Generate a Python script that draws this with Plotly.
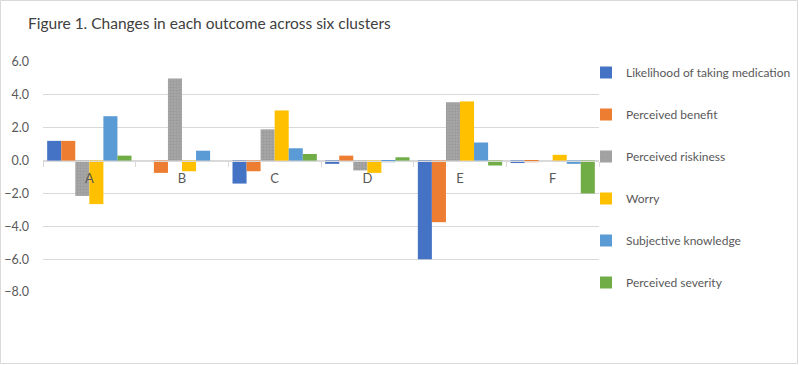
import plotly.graph_objects as go

clusters = ["A", "B", "C", "D", "E", "F"]
series_names = [
    "Likelihood of taking medication",
    "Perceived benefit",
    "Perceived riskiness",
    "Worry",
    "Subjective knowledge",
    "Perceived severity",
]
likelihood = [1.2, 0.0, -1.4, -0.2, -6.0, -0.15]
benefit = [1.2, -0.75, -0.65, 0.3, -3.75, -0.1]
riskiness = [-2.15, 5.0, 1.9, -0.6, 3.55, 0.0]
worry = [-2.65, -0.65, 3.05, -0.75, 3.6, 0.35]
knowledge = [2.7, 0.6, 0.75, -0.1, 1.1, -0.2]
severity = [0.3, 0.0, 0.4, 0.2, -0.3, -2.0]
colors = ["#4472C4", "#ED7D31", "#A5A5A5", "#FFC000", "#5B9BD5", "#70AD47"]

all_series = [likelihood, benefit, riskiness, worry, knowledge, severity]

fig = go.Figure()
for i, (name, vals, col) in enumerate(zip(series_names, all_series, colors)):
    marker = dict(color=col, line=dict(width=0))
    if name == "Perceived riskiness":
        marker["pattern"] = dict(shape=".", fgcolor="#8E8E8E", bgcolor="#A5A5A5",
                                 size=3, solidity=0.35)
    fig.add_trace(go.Bar(x=clusters, y=vals, name=name, marker=marker,
                         legendgroup=f"g{i}"))

W, H = 799, 365
L, R, T, B = 43, 200, 62, 73
pw, ph = W - L - R, H - T - B

fig.update_layout(
    width=W, height=H,
    margin=dict(l=L, r=R, t=T, b=B, autoexpand=False),
    paper_bgcolor="white", plot_bgcolor="white",
    barmode="group", bargap=0.09, bargroupgap=0,
    font=dict(family="Lato, Open Sans, sans-serif", color="#595959", size=12),
    title=dict(text="Figure 1. Changes in each outcome across six clusters",
               x=28 / W, xanchor="left", y=1 - 24 / H, yanchor="middle",
               pad=dict(l=0, r=0, t=0, b=0),
               font=dict(size=15.5, color="#404040")),
    legend=dict(x=1 - 13 / pw, xanchor="left", y=1 + 4 / ph, yanchor="top",
                font=dict(size=12, color="#595959"), tracegroupgap=23,
                itemwidth=30, bgcolor="rgba(0,0,0,0)", maxheight=330),
    showlegend=True,
    xaxis=dict(type="category", anchor="free", position=8 / 14,
               showline=True, linecolor="#D9D9D9", linewidth=1,
               ticks="outside", tickson="boundaries", ticklen=5,
               tickcolor="#D9D9D9", showgrid=False,
               tickfont=dict(size=13, color="#595959"), ticklabelstandoff=6),
    yaxis=dict(range=[-8, 6], dtick=2, tickformat=".1f",
               showgrid=True, gridcolor="#D9D9D9", gridwidth=1,
               zeroline=False, showline=False,
               tickfont=dict(size=12.5, color="#595959"), ticklabelstandoff=13),
)

fig.add_shape(type="rect", xref="paper", yref="paper",
              x0=-(L - 0.5) / pw, x1=1 + (R - 1.5) / pw,
              y0=-(B - 1.5) / ph, y1=1 + (T - 0.5) / ph,
              line=dict(color="#D9D9D9", width=1), layer="below")

fig.write_html("out.html",
               config={"displayModeBar": False},
               post_script="document.body.style.margin='0';"
                           "document.body.style.overflow='hidden';")
